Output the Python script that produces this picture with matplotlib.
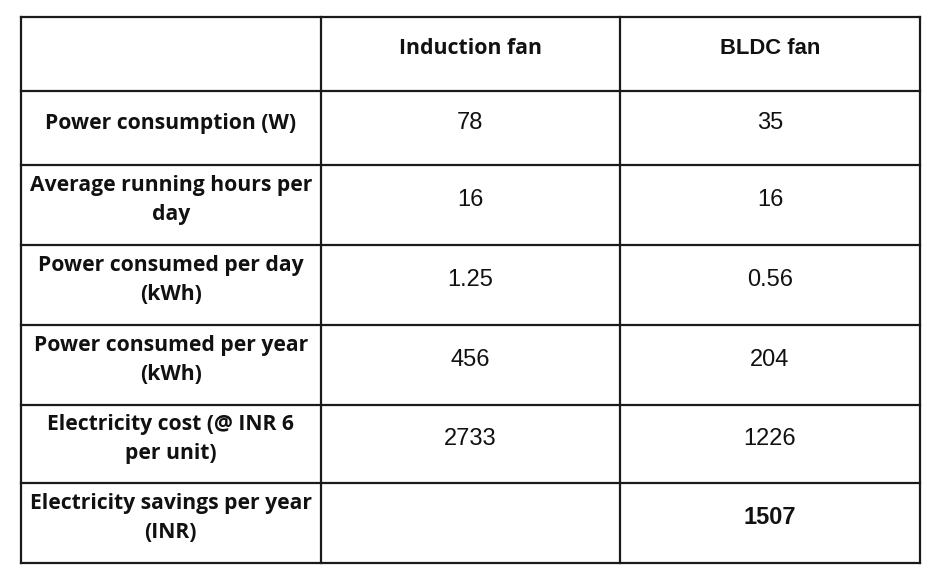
import matplotlib
matplotlib.use("Agg")
import matplotlib.pyplot as plt

# ---- data ----
col_headers = ["", "Induction fan", "BLDC fan"]
row_labels = [
    "Power consumption (W)",
    "Average running hours per\nday",
    "Power consumed per day\n(kWh)",
    "Power consumed per year\n(kWh)",
    "Electricity cost (@ INR 6\nper unit)",
    "Electricity savings per year\n(INR)",
]
induction_vals = ["78", "16", "1.25", "456", "2733", ""]
bldc_vals = ["35", "16", "0.56", "204", "1226", "1507"]
bold_value_rows = [5]

# ---- layout ----
W, H = 942, 584
col_edges = [21, 320.5, 620, 920]
row_edges = [17, 91, 165, 245, 325, 405, 483, 563]

fig = plt.figure(figsize=(W / 100, H / 100), dpi=100)
ax = fig.add_axes([0, 0, 1, 1])
ax.set_xlim(0, W)
ax.set_ylim(H, 0)
ax.axis("off")

lw = 1.6
for y in row_edges:
    ax.plot([col_edges[0], col_edges[-1]], [y, y], color="#1a1a1a", lw=lw, solid_capstyle="projecting")
for x in col_edges:
    ax.plot([x, x], [row_edges[0], row_edges[-1]], color="#1a1a1a", lw=lw, solid_capstyle="projecting")

label_font = ["Open Sans", "DejaVu Sans"]
num_font = ["Liberation Sans", "DejaVu Sans"]

def cx(i):
    return (col_edges[i] + col_edges[i + 1]) / 2

def cy(j):
    return (row_edges[j] + row_edges[j + 1]) / 2

# header
ax.text(cx(1), cy(0) - 5, col_headers[1], ha="center", va="center",
        fontsize=15.3, fontweight="bold", family=label_font, color="#111")
ax.text(cx(2), cy(0) - 6, col_headers[2], ha="center", va="center",
        fontsize=15.8, fontweight="bold", family=num_font, color="#111")

for r, lab in enumerate(row_labels):
    j = r + 1
    off = -5
    ax.text(cx(0), cy(j) + off, lab, ha="center", va="center",
            fontsize=15.2, fontweight="bold", family=label_font,
            linespacing=1.45, color="#111")
    bold = r in bold_value_rows
    for i, vals in ((1, induction_vals), (2, bldc_vals)):
        ax.text(cx(i), cy(j) - 5, vals[r], ha="center", va="center",
                fontsize=17, fontweight="bold" if bold else "normal",
                family=num_font, color="#111")

fig.savefig("out.png", dpi=100, facecolor="white")
